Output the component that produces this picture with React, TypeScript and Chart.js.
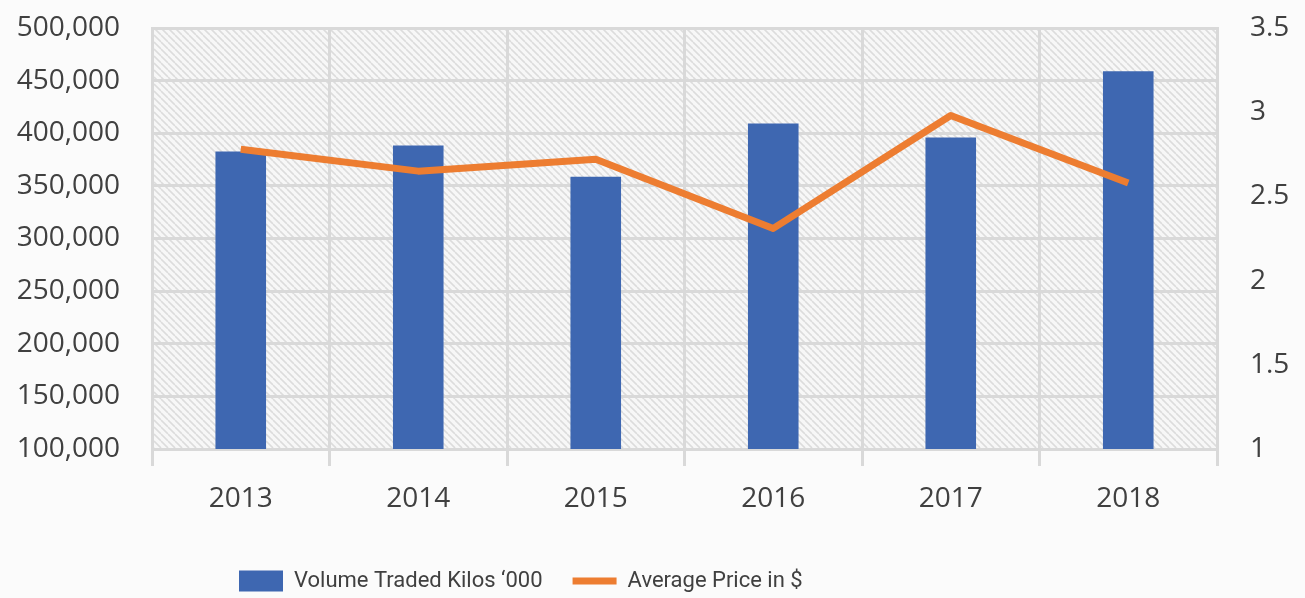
import React, { useEffect, useRef } from "react";
import { Chart, registerables } from "chart.js";

Chart.register(...registerables);

const years = ["2013", "2014", "2015", "2016", "2017", "2018"];
const volumeTraded = [382600, 388300, 358700, 409300, 396000, 459000];
const averagePrice = [2.78, 2.65, 2.72, 2.31, 2.98, 2.58];
const volumeLabel = "Volume Traded Kilos \u2018000";
const priceLabel = "Average Price in $";

const TEXT = "#404040";
const GRID = "#d9d9d9";

function makePattern(): CanvasPattern | string {
  const s = 7;
  const c = document.createElement("canvas");
  c.width = s;
  c.height = s;
  const g = c.getContext("2d");
  if (!g) return "#f4f4f4";
  g.fillStyle = "#f7f7f7";
  g.fillRect(0, 0, s, s);
  g.strokeStyle = "#dcdcdc";
  g.lineWidth = 1.6;
  for (let k = -1; k <= 1; k++) {
    g.beginPath();
    g.moveTo(k * s, 0);
    g.lineTo(k * s + s, s);
    g.stroke();
  }
  const p = g.createPattern(c, "repeat");
  return p || "#f4f4f4";
}

const bgPlugin = {
  id: "bgHatch",
  beforeDraw(chart: any) {
    const { ctx, chartArea, width, height } = chart;
    ctx.save();
    ctx.fillStyle = "#fbfbfb";
    ctx.fillRect(0, 0, width, height);
    ctx.fillStyle = makePattern();
    ctx.fillRect(chartArea.left, chartArea.top, chartArea.right - chartArea.left, chartArea.bottom - chartArea.top);
    ctx.restore();
  },
};

const legendShift = {
  id: "legendShift",
  afterLayout(chart: any) {
    const lg = chart.legend;
    if (!lg) return;
    const pad = lg.options.labels.padding;
    lg.left = 239 - pad;
    lg.top = lg.top + 4;
  },
};

export default function App() {
  const ref = useRef<HTMLCanvasElement>(null);
  useEffect(() => {
    document.body.style.margin = "0";
    const canvas = ref.current;
    if (!canvas) return;
    const tickFont = { family: "'Open Sans', sans-serif", size: 28 };
    const chart = new Chart(canvas, {
      type: "bar",
      data: {
        labels: years,
        datasets: [
          {
            type: "line",
            label: priceLabel,
            data: averagePrice,
            yAxisID: "y1",
            borderColor: "#ed7d31",
            backgroundColor: "#ed7d31",
            borderWidth: 7,
            pointRadius: 0,
            pointStyle: "line",
            tension: 0,
            borderJoinStyle: "round",
            order: 0,
          } as any,
          {
            type: "bar",
            label: volumeLabel,
            data: volumeTraded,
            yAxisID: "y",
            backgroundColor: "#3e67b1",
            borderWidth: 0,
            barPercentage: 0.285,
            categoryPercentage: 1,
            pointStyle: "rect",
            order: 1,
          } as any,
        ],
      },
      options: {
        animation: false,
        responsive: false,
        maintainAspectRatio: false,
        layout: { padding: { top: 28, left: 0, right: 0, bottom: 0 } },
        plugins: {
          tooltip: { enabled: false },
          legend: {
            position: "bottom",
            align: "start",
            reverse: true,
            labels: {
              usePointStyle: true,
              pointStyleWidth: 44,
              boxHeight: 21,
              padding: 30,
              color: TEXT,
              font: { family: "Roboto, sans-serif", size: 22 },
            },
          },
        },
        scales: {
          x: {
            grid: {
              color: GRID,
              lineWidth: 3,
              offset: true,
              drawTicks: true,
              tickLength: 17,
            },
            border: { color: GRID, width: 3 },
            ticks: { color: TEXT, font: tickFont, padding: 16, maxRotation: 0 },
            afterFit(scale: any) {
              scale.height = 87;
            },
          },
          y: {
            position: "left",
            min: 100000,
            max: 500000,
            grid: { color: GRID, lineWidth: 3, drawTicks: false },
            border: { color: GRID, width: 3 },
            ticks: {
              stepSize: 50000,
              color: TEXT,
              font: tickFont,
              padding: 32,
              callback: (v: any) => Number(v).toLocaleString("en-US"),
            },
            afterFit(scale: any) {
              scale.width = 152;
              scale.paddingTop = 0;
              scale.paddingBottom = 0;
            },
          },
          y1: {
            position: "right",
            min: 1,
            max: 3.5,
            grid: { display: false, drawTicks: false },
            border: { color: GRID, width: 3 },
            ticks: {
              stepSize: 0.5,
              color: TEXT,
              font: tickFont,
              padding: 33,
              callback: (v: any) => String(Number(v)),
            },
            afterFit(scale: any) {
              scale.width = 88;
              scale.paddingTop = 0;
              scale.paddingBottom = 0;
            },
          },
        },
      },
      plugins: [bgPlugin, legendShift],
    } as any);
    return () => chart.destroy();
  }, []);
  return (
    <div style={{ position: "absolute", left: 0, top: 0, width: 1305, height: 598 }}>
      <canvas ref={ref} width={1305} height={598} style={{ display: "block" }} />
    </div>
  );
}
